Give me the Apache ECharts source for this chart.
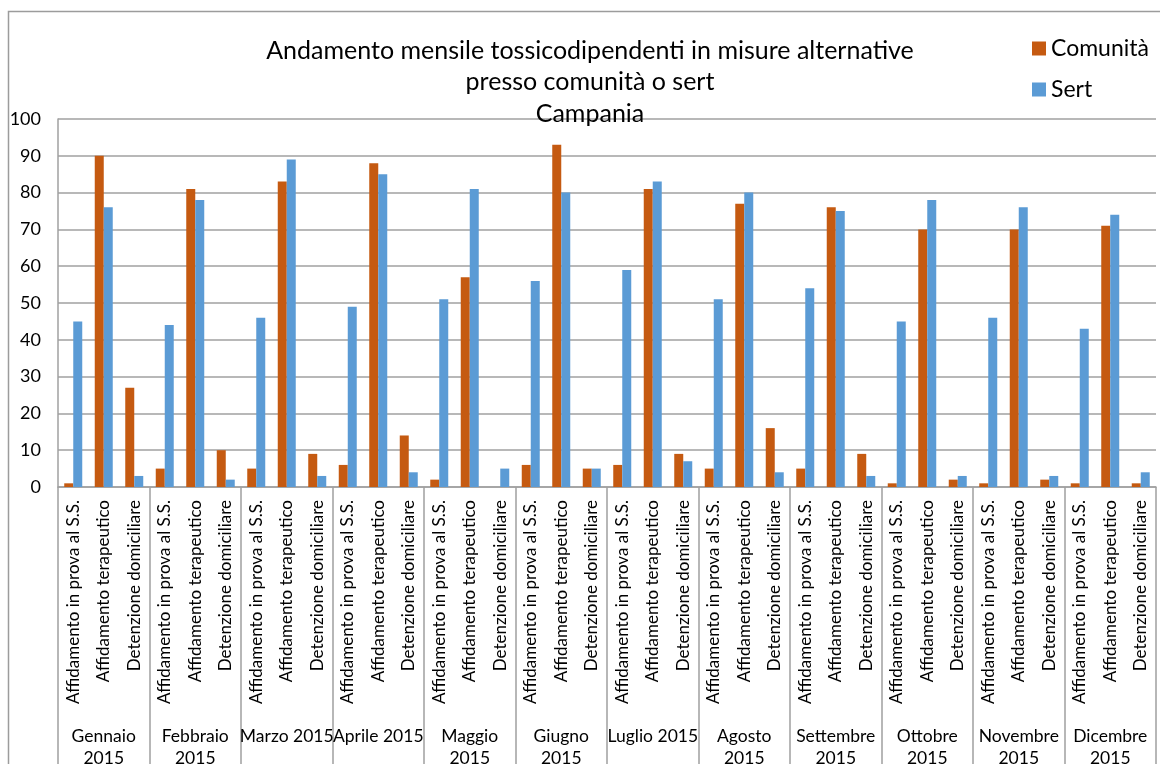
<!DOCTYPE html>
<html>
<head>
<meta charset="utf-8">
<script src="https://cdn.jsdelivr.net/npm/echarts@6/dist/echarts.min.js"></script>
<style>html,body{margin:0;padding:0;background:#fff}#c{width:1160px;height:764px}</style>
</head>
<body>
<div id="c"></div>
<script>
const months = ["Gennaio\n2015","Febbraio\n2015","Marzo 2015","Aprile 2015","Maggio\n2015","Giugno\n2015","Luglio 2015","Agosto\n2015","Settembre\n2015","Ottobre\n2015","Novembre\n2015","Dicembre\n2015"];
const measures = ["Affidamento in prova al S.S.","Affidamento terapeutico","Detenzione domiciliare"];
const comunita = [1,90,27, 5,81,10, 5,83,9, 6,88,14, 2,57,0, 6,93,5, 6,81,9, 5,77,16, 5,76,9, 1,70,2, 1,70,2, 1,71,1];
const sert = [45,76,3, 44,78,2, 46,89,3, 49,85,4, 51,81,5, 56,80,5, 59,83,7, 51,80,4, 54,75,3, 45,78,3, 46,76,3, 43,74,4];
const yTicks = [0,10,20,30,40,50,60,70,80,90,100];

const cats = [];
months.forEach(() => measures.forEach(m => cats.push(m)));
const FONT = "Lato";
const chart = echarts.init(document.getElementById('c'));
chart.setOption({
  animation: false,
  backgroundColor: '#fff',
  textStyle: {fontFamily: FONT},
  title: {
    text: "Andamento mensile tossicodipendenti in misure alternative\npresso comunità o sert\nCampania",
    left: 585, top: 30, textAlign: 'center',
    textStyle: {fontFamily: FONT, fontSize: 25, fontWeight: 'normal', color: '#000', lineHeight: 31.5}
  },
  legend: {
    orient: 'vertical', left: 1032, top: 37, padding: 0, itemWidth: 14, itemHeight: 14, itemGap: 18,
    icon: 'rect',
    textStyle: {fontFamily: FONT, fontSize: 23, color: '#000', padding: [0,0,0,0]},
    data: ['Comunità','Sert']
  },
  graphic: [{
    type: 'rect', shape: {x: 8.5, y: 11.5, width: 1200, height: 800},
    style: {fill: 'none', stroke: '#9c9c9c', lineWidth: 1.5}, silent: true
  }],
  grid: {left: 58, right: 4, top: 119, bottom: 277, containLabel: false, outerBoundsMode: 'none'},
  xAxis: [{
    type: 'category', data: cats, position: 'bottom',
    axisLine: {lineStyle: {color: '#a0a0a0', width: 1.5}},
    axisTick: {show: false},
    axisLabel: {interval: 0, rotate: 90, margin: 13, fontFamily: FONT, fontSize: 17, color: '#000'}
  }, {
    type: 'category', data: months, position: 'bottom',
    axisLine: {show: false},
    axisTick: {show: true, length: 290, lineStyle: {color: '#a0a0a0', width: 1.5}},
    axisLabel: {interval: 0, margin: 238, fontFamily: FONT, fontSize: 17.5, color: '#000', lineHeight: 22}
  }],
  yAxis: {
    type: 'value', min: 0, max: 100, interval: 10,
    axisLine: {show: true, lineStyle: {color: '#a0a0a0', width: 1.5}},
    axisTick: {show: false},
    splitLine: {lineStyle: {color: '#a0a0a0', width: 1.5}},
    axisLabel: {margin: 17, fontFamily: FONT, fontSize: 18, color: '#000',
      formatter: v => yTicks.includes(v) ? String(v) : ''}
  },
  series: [{
    name: 'Comunità', type: 'bar', xAxisIndex: 0, data: comunita, barWidth: 9, barGap: '0%',
    itemStyle: {color: '#c55a11'}
  }, {
    name: 'Sert', type: 'bar', xAxisIndex: 0, data: sert, barWidth: 9, barGap: '0%',
    itemStyle: {color: '#5b9bd5'}
  }]
});
</script>
</body>
</html>
